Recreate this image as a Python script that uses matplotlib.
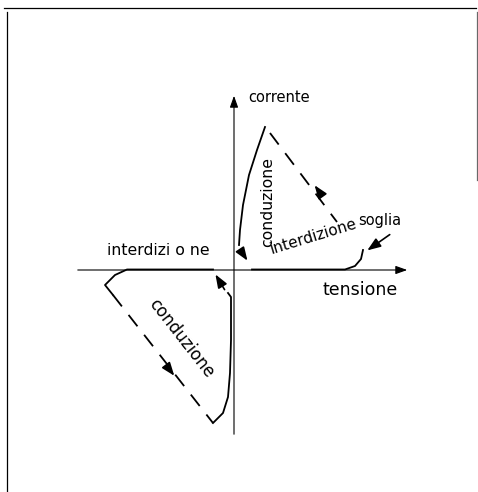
import matplotlib
matplotlib.use("Agg")
import matplotlib.pyplot as plt

# caratteristica tensione-corrente (unita arbitrarie)
# ramo positivo
cond_pos_u = [3.1, 2.3, 1.5, 0.9, 0.6, 0.5]
cond_pos_v = [14.3, 12.0, 9.5, 6.5, 4.0, 2.5]
interd_pos_u = [1.8, 11.1, 12.1, 12.7, 12.9]
interd_pos_v = [0.05, 0.05, 0.4, 1.1, 2.0]
ritorno_pos_u = [3.6, 10.3]
ritorno_pos_v = [13.7, 4.8]

# ramo negativo
interd_neg_u = [-2.1, -10.7, -11.9, -12.9, -12.1]
interd_neg_v = [0.05, 0.05, -0.5, -1.5, -2.5]
ritorno_neg_u = [-12.1, -2.1]
ritorno_neg_v = [-2.5, -15.3]
cond_neg_u = [-2.1, -1.1, -0.6, -0.4, -0.3, -0.3, -0.6]
cond_neg_v = [-15.3, -14.3, -12.7, -10.3, -7.0, -2.7, -2.3]

# limiti assi
u_min, u_max = -15.9, 17.6
v_min, v_max = -16.7, 17.7

fig = plt.figure(figsize=(4.78, 4.92), dpi=100)
ax = fig.add_axes([0, 0, 1, 1])
ax.set_xlim(-23.4, 24.4)
ax.set_ylim(-22.2, 27.0)
ax.axis('off')

# cornice
ax.plot([0.008, 0.996], [0.984, 0.984], color='black', lw=0.9, transform=ax.transAxes)
ax.plot([0.015, 0.015], [0.0, 0.976], color='black', lw=0.9, transform=ax.transAxes)
ax.plot([0.998, 0.998], [0.634, 0.976], color='dimgray', lw=0.9, transform=ax.transAxes)

frecce = dict(arrowstyle='-|>,head_length=0.7,head_width=0.25', color='black', lw=0.8)
# assi
ax.annotate('', xy=(u_max, 0), xytext=(u_min, 0), arrowprops=frecce)
ax.annotate('', xy=(0, v_max), xytext=(0, v_min), arrowprops=frecce)

col = 'black'
lw = 1.3
ax.plot(cond_pos_u, cond_pos_v, color=col, lw=lw)
ax.plot(interd_pos_u, interd_pos_v, color=col, lw=lw)
ax.plot(ritorno_pos_u, ritorno_pos_v, color=col, lw=lw, linestyle=(0, (8, 6)))
ax.plot(interd_neg_u, interd_neg_v, color=col, lw=lw)
ax.plot(ritorno_neg_u, ritorno_neg_v, color=col, lw=lw, linestyle=(0, (8, 6)))
ax.plot(cond_neg_u, cond_neg_v, color=col, lw=lw)

punta = dict(arrowstyle='-|>,head_length=0.8,head_width=0.3', color='black', lw=1.2)
# frecce sul ciclo
ax.annotate('', xy=(1.5, 0.7), xytext=(0.5, 2.2), arrowprops=punta)
ax.annotate('', xy=(-2.0, -0.2), xytext=(-0.8, -2.2), arrowprops=punta)
ax.annotate('', xy=(7.9, 8.7), xytext=(8.9, 7.3), arrowprops=punta)
ax.annotate('', xy=(-5.8, -10.8), xytext=(-6.8, -9.5), arrowprops=punta)
# soglia
ax.annotate('', xy=(13.1, 1.8), xytext=(15.8, 3.7), arrowprops=punta)

ax.text(1.4, 17.3, 'corrente', fontsize=10.5, ha='left', va='center')
ax.text(12.6, -2.0, 'tensione', fontsize=12.5, ha='center', va='center')
ax.text(14.6, 5.0, 'soglia', fontsize=10.5, ha='center', va='center')
ax.text(3.4, 6.8, 'conduzione', fontsize=11.3, ha='center', va='center', rotation=90)
ax.text(7.9, 3.3, 'interdizione', fontsize=11, ha='center', va='center', rotation=17)
ax.text(-7.6, 2.0, 'interdizi o ne', fontsize=11.3, ha='center', va='center')
ax.text(-5.3, -6.8, 'conduzione', fontsize=12, ha='center', va='center', rotation=-52)

plt.savefig('out.png', dpi=100)
